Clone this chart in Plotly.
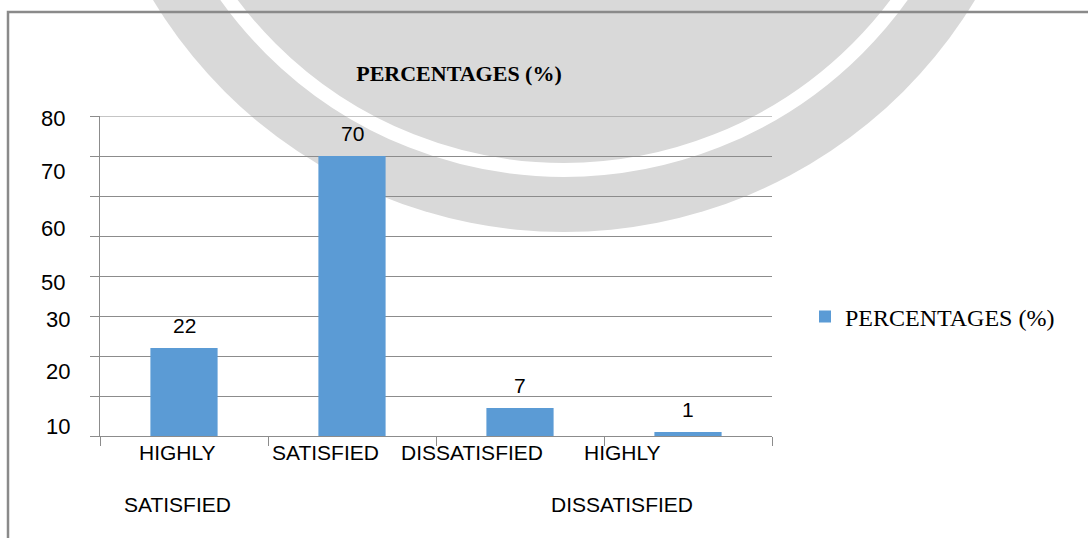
import plotly.graph_objects as go

# ---------------- data ----------------
categories = ["HIGHLY SATISFIED", "SATISFIED", "DISSATISFIED", "HIGHLY DISSATISFIED"]
percentages = [22, 70, 7, 1]
series_name = "PERCENTAGES (%)"
chart_title = "PERCENTAGES (%)"
ytick_labels = ["80", "70", "60", "50", "30", "20", "10"]
ytick_label_values = [79.5, 66.25, 52, 38.5, 29.25, 16.25, 2.5]

# ---------------- styles / layout geometry ----------------
W, H = 1088, 538
PL, PR, PT, PB = 100, 772, 116, 436          # plot area in pixels
BAR_COLOR = "#5b9bd5"
GRID = "#8c8c8c"
SANS = "Liberation Sans"
SERIF = "Liberation Serif"
ylabel_right_px = [67, 67, 67, 67, 72, 72, 72]
xlabel_shift = [-7, -27, -48, -66]


def px_x(px):
    return (px - PL) / (PR - PL)


def px_y(py):
    return (PB - py) / (PB - PT)


fig = go.Figure()

fig.add_trace(go.Bar(
    x=categories, y=percentages, name=series_name,
    marker=dict(color=BAR_COLOR, line=dict(width=0)),
    width=0.4, hoverinfo="x+y",
))

annotations = []
# value labels
for c, v in zip(categories, percentages):
    annotations.append(dict(
        x=c, y=v, xref="x", yref="y", text=str(v), showarrow=False,
        yanchor="middle", yshift=23,
        font=dict(family=SANS, size=21, color="#000000"),
    ))
# category labels (two lines)
for c, dx in zip(categories, xlabel_shift):
    parts = c.split(" ", 1)
    lines = parts if len(parts) == 2 else [parts[0], ""]
    for line, dy in zip(lines, [-16.5, -68]):
        if not line:
            continue
        annotations.append(dict(
            x=c, y=0, xref="x", yref="paper", text=line, showarrow=False,
            xanchor="center", yanchor="middle", xshift=dx, yshift=dy,
            font=dict(family=SANS, size=21, color="#000000"),
        ))
# y tick labels
for t, v, rx in zip(ytick_labels, ytick_label_values, ylabel_right_px):
    annotations.append(dict(
        x=px_x(rx), y=v, xref="paper", yref="y", text=t, showarrow=False,
        xanchor="right", yanchor="middle",
        font=dict(family=SANS, size=22, color="#000000"),
    ))

shapes = [
    # watermark disk
    dict(type="circle", xref="paper", yref="paper", layer="below",
         x0=px_x(84), x1=px_x(1044), y0=px_y(232), y1=px_y(-728),
         fillcolor="#d9d9d9", line=dict(width=0)),
    # watermark ring
    dict(type="circle", xref="paper", yref="paper", layer="below",
         x0=px_x(149), x1=px_x(979), y0=px_y(170), y1=px_y(-660),
         fillcolor="rgba(0,0,0,0)", line=dict(color="#ffffff", width=14)),
    # top gridline (at 80)
    dict(type="line", xref="paper", yref="y", layer="below",
         x0=px_x(91), x1=1, y0=80, y1=80,
         line=dict(color=GRID, width=1)),
    # page border (left + top)
    dict(type="path", xref="paper", yref="paper", layer="above",
         path=f"M {px_x(8)},{px_y(545)} L {px_x(8)},{px_y(12)} L {px_x(1095)},{px_y(12)}",
         line=dict(color="#8a8a8a", width=2.5)),
]

fig.update_layout(
    width=W, height=H,
    margin=dict(l=PL, r=W - PR, t=PT, b=H - PB, pad=0),
    paper_bgcolor="#ffffff", plot_bgcolor="rgba(0,0,0,0)",
    title=dict(text=chart_title, x=459 / W, xanchor="center", y=1 - 73 / H,
               yanchor="middle",
               font=dict(family=SERIF, size=22, color="#000000", weight="bold")),
    xaxis=dict(type="category", range=[-0.5, 3.5], showgrid=False,
               showline=True, linecolor=GRID, linewidth=1,
               ticks="outside", tickson="boundaries", ticklen=9,
               tickcolor=GRID, tickwidth=1, showticklabels=False),
    yaxis=dict(range=[0, 80], tick0=0, dtick=10, showgrid=True,
               gridcolor=GRID, gridwidth=1, zeroline=False,
               showline=True, linecolor=GRID, linewidth=1,
               ticks="outside", ticklen=9, tickcolor=GRID, tickwidth=1,
               showticklabels=False),
    showlegend=True,
    legend=dict(x=px_x(805), xanchor="left", y=px_y(317), yanchor="middle",
                bgcolor="rgba(0,0,0,0)",
                font=dict(family=SERIF, size=24, color="#000000")),
    annotations=annotations,
    shapes=shapes,
    bargap=0.6,
)

fig.write_html("out.html")
